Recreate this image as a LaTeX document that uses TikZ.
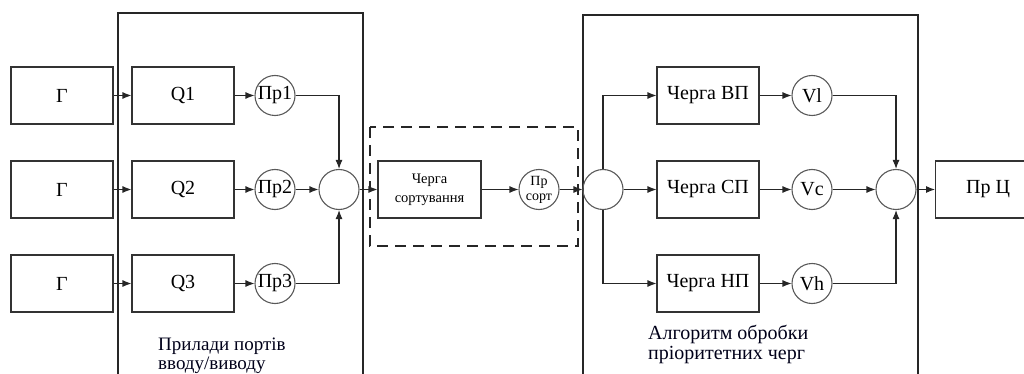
\documentclass[tikz,border=0pt]{standalone}
\usepackage{fontspec}
\setmainfont{Liberation Serif}
\usetikzlibrary{arrows.meta,calc}
\begin{document}
\begin{tikzpicture}[x=1pt,y=-1pt,
  ln/.style={draw=black!85,line width=1.1pt},
  arr/.style={ln,-{Latex[length=9pt,width=7pt]}},
  blk/.style={draw=black!80,line width=1.1pt,minimum width=102pt,minimum height=57pt,inner sep=0pt,font=\fontsize{20}{22}\selectfont},
  circ/.style={circle,draw=black!65,line width=1.1pt,minimum size=40pt,inner sep=0pt,font=\fontsize{20}{22}\selectfont},
  frame/.style={draw=black!85,line width=1.1pt},
  lbl/.style={anchor=base west,inner sep=0pt,text=black!90!blue,font=\fontsize{20}{22}\selectfont}]
\useasboundingbox (0,0) rectangle (1024,374);
\clip (0,0) rectangle (1024,374);
% frames
\draw[frame] (118,380) -- (118,13) -- (363,13) -- (363,380);
\draw[frame] (583,380) -- (583,15) -- (918,15) -- (918,380);
\draw[frame,dashed,dash pattern=on 11pt off 7pt] (370,127) rectangle (578,246);
% left column
\foreach \i/\y in {1/95.5,2/189.5,3/283.5}{
  \node[blk] (g\i) at (62,\y) {Г};
  \node[blk] (q\i) at (183,\y) {Q\i};
  \node[circ] (p\i) at (275,\y) {Пр\i};
  \draw[arr] (g\i) -- (q\i);
  \draw[arr] (q\i) -- (p\i);
}
\node[circ] (m1) at (339,189.5) {};
\draw[arr] (p1.east) -| (m1.north);
\draw[arr] (p2) -- (m1);
\draw[arr] (p3.east) -| (m1.south);
% sort
\node[blk,minimum width=103pt,font=\fontsize{14.5}{19}\selectfont,align=center] (s) at (429.5,189.5) {Черга\\сортування};
\node[circ,font=\fontsize{14}{15}\selectfont,align=center] (ps) at (539,189.5) {Пр\\сорт};
\node[circ] (sp) at (603,189.5) {};
\draw[arr] (m1) -- (s);
\draw[arr] (s) -- (ps);
\draw[arr] (ps) -- (sp);
% right column
\node[blk] (b1) at (708,95.5) {Черга ВП};
\node[blk] (b2) at (708,189.5) {Черга СП};
\node[blk] (b3) at (708,283.5) {Черга НП};
\node[circ] (v1) at (812,95.5) {Vl};
\node[circ] (v2) at (812,189.5) {Vc};
\node[circ] (v3) at (812,283.5) {Vh};
\draw[arr] (sp.north) |- (b1.west);
\draw[arr] (sp) -- (b2);
\draw[arr] (sp.south) |- (b3.west);
\foreach \i in {1,2,3}{\draw[arr] (b\i) -- (v\i);}
\node[circ] (m2) at (896,189.5) {};
\draw[arr] (v1.east) -| (m2.north);
\draw[arr] (v2) -- (m2);
\draw[arr] (v3.east) -| (m2.south);
\node[blk,minimum width=105pt,anchor=west] (pc) at (935,189.5) {Пр Ц};
\draw[arr] (m2) -- (pc);
% labels
\node[lbl,font=\fontsize{19}{21}\selectfont] (la1) at (158,350) {Прилади портів};
\node[lbl,font=\fontsize{19}{21}\selectfont] (la2) at (158,369) {вводу/виводу};
\node[lbl] (lb1) at (648,339) {Алгоритм обробки};
\node[lbl] (lb2) at (648,359) {пріоритетних черг};
\end{tikzpicture}
\end{document}
